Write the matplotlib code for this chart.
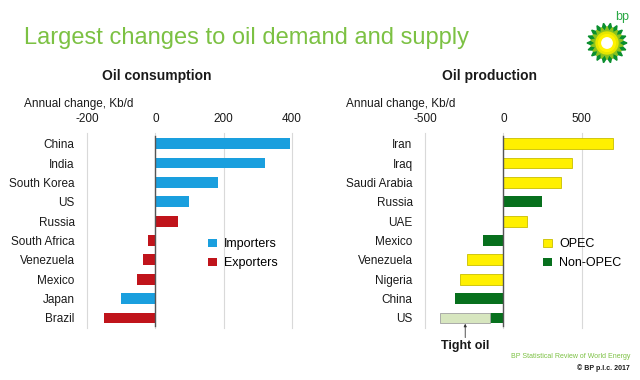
"""Largest changes to oil demand and supply (BP Statistical Review 2017)."""

import numpy as np
import matplotlib
matplotlib.use("Agg")
import matplotlib.pyplot as plt
from matplotlib.patches import Patch, Polygon, Circle

plt.rcParams['font.family'] = ['Liberation Sans', 'DejaVu Sans']

# Oil consumption, annual change Kb/d
cons_countries = ["China", "India", "South Korea", "US", "Russia",
                  "South Africa", "Venezuela", "Mexico", "Japan", "Brazil"]
cons_values = [395, 322, 183, 99, 65, -21, -36, -53, -101, -150]
cons_groups = ["Importers", "Importers", "Importers", "Importers", "Exporters",
               "Exporters", "Exporters", "Exporters", "Importers", "Exporters"]

# Oil production, annual change Kb/d
prod_countries = ["Iran", "Iraq", "Saudi Arabia", "Russia", "UAE",
                  "Mexico", "Venezuela", "Nigeria", "China", "US"]
prod_values = [700, 437, 367, 247, 148, -127, -232, -274, -306, -84]
prod_groups = ["OPEC", "OPEC", "OPEC", "Non-OPEC", "OPEC",
               "Non-OPEC", "OPEC", "OPEC", "Non-OPEC", "Non-OPEC"]
us_tight_oil = -319

cons_ticks = [-200, 0, 200, 400]
prod_ticks = [-500, 0, 500]

colors = {"Importers": "#1a9fde", "Exporters": "#c0141b",
          "OPEC": "#fff000", "Non-OPEC": "#07701d"}
edges = {"Importers": "none", "Exporters": "none",
         "OPEC": "#c9be00", "Non-OPEC": "none"}
TIGHT_COLOR = "#d7e6bf"
GREEN_TEXT = "#7cc143"
GRID = "#d9d9d9"
TEXT = "#1a1a1a"


def draw_panel(ax, countries, values, groups, ticks, xlim):
    y = np.arange(len(countries))
    ax.barh(y, values, height=0.56,
            color=[colors[g] for g in groups],
            edgecolor=[edges[g] for g in groups], linewidth=0.6, zorder=2)
    ax.set_xlim(*xlim)
    ax.set_ylim(9.52, -0.55)
    ax.set_xticks(ticks)
    ax.set_xticklabels([str(t) for t in ticks])
    ax.xaxis.tick_top()
    ax.tick_params(axis="x", length=0, pad=6, labelsize=8.5, colors=TEXT)
    ax.set_yticks(y)
    ax.set_yticklabels(countries)
    ax.tick_params(axis="y", length=0, pad=9, labelsize=8.5, colors=TEXT)
    ax.grid(axis="x", color=GRID, linewidth=0.8, zorder=0)
    for gl in ax.xaxis.get_gridlines():
        gl.set_clip_on(False)
    ax.set_axisbelow(True)
    ax.axvline(0, ymin=0.01, ymax=0.985, color="#555555", linewidth=1.0, zorder=3)
    for s in ax.spines.values():
        s.set_visible(False)


fig = plt.figure(figsize=(6.4, 3.8), dpi=100)

# left: consumption
ax1 = fig.add_axes([87 / 640, 1 - 328 / 380, 205 / 640, 195 / 380])
draw_panel(ax1, cons_countries, cons_values, cons_groups, cons_ticks, (-200, 400))
ax1.legend(handles=[Patch(facecolor=colors["Importers"], label="Importers"),
                    Patch(facecolor=colors["Exporters"], label="Exporters")],
           loc="center left", bbox_to_anchor=(0.535, 0.38), frameon=False,
           handlelength=0.7, handleheight=0.7, handletextpad=0.6,
           labelspacing=0.55, fontsize=9)

# right: production
ax2 = fig.add_axes([425 / 640, 1 - 328 / 380, 196 / 640, 195 / 380])
draw_panel(ax2, prod_countries, prod_values, prod_groups, prod_ticks, (-500, 750))
us_idx = prod_countries.index("US")
ax2.barh(us_idx, us_tight_oil, left=prod_values[us_idx], height=0.56,
         color=TIGHT_COLOR, edgecolor="#a0a0a0", linewidth=0.6, zorder=2)
ax2.legend(handles=[Patch(facecolor=colors["OPEC"], edgecolor=edges["OPEC"],
                          linewidth=0.6, label="OPEC"),
                    Patch(facecolor=colors["Non-OPEC"], label="Non-OPEC")],
           loc="center left", bbox_to_anchor=(0.545, 0.38), frameon=False,
           handlelength=0.7, handleheight=0.7, handletextpad=0.6,
           labelspacing=0.55, fontsize=9)
ax2.annotate("Tight oil", xy=(prod_values[us_idx] + us_tight_oil / 2, us_idx + 0.3),
             xytext=(0, -12), textcoords="offset points", ha="center", va="top",
             fontsize=9, fontweight="bold", color=TEXT, annotation_clip=False,
             arrowprops=dict(arrowstyle="-|>", color="#333333", lw=0.6,
                             mutation_scale=4, shrinkA=0, shrinkB=0))

# texts
fig.text(24 / 640, 1 - 38 / 380, "Largest changes to oil demand and supply",
         fontsize=17, color=GREEN_TEXT, ha="left", va="center")
fig.text(157 / 640, 1 - 76 / 380, "Oil consumption", fontsize=10,
         fontweight="bold", color=TEXT, ha="center", va="center")
fig.text(490 / 640, 1 - 76 / 380, "Oil production", fontsize=10,
         fontweight="bold", color=TEXT, ha="center", va="center")
fig.text(24 / 640, 1 - 104 / 380, "Annual change, Kb/d", fontsize=8.5,
         color=TEXT, ha="left", va="center")
fig.text(346 / 640, 1 - 104 / 380, "Annual change, Kb/d", fontsize=8.5,
         color=TEXT, ha="left", va="center")
fig.text(630 / 640, 1 - 357 / 380, "BP Statistical Review of World Energy",
         fontsize=5, color=GREEN_TEXT, ha="right", va="center")
fig.text(630 / 640, 1 - 368 / 380, "\u00a9 BP p.l.c. 2017", fontsize=5,
         fontweight="bold", color=TEXT, ha="right", va="center")

# bp helios logo
fig.text(622 / 640, 1 - 17 / 380, "bp", fontsize=9, color="#2aa845",
         ha="center", va="center")
lax = fig.add_axes([585 / 640, 1 - 65 / 380, 44 / 640, 44 / 380])
lax.set_xlim(-1.1, 1.1)
lax.set_ylim(-1.1, 1.1)
lax.set_aspect("equal")
lax.axis("off")


def star(r_out, r_in, n, rot=0.0):
    ang = np.linspace(0, 2 * np.pi, 2 * n, endpoint=False) + rot
    r = np.where(np.arange(2 * n) % 2 == 0, r_out, r_in)
    return np.column_stack([r * np.cos(ang), r * np.sin(ang)])


lax.add_patch(Polygon(star(1.0, 0.72, 18), color="#0a8f2e"))
lax.add_patch(Polygon(star(0.82, 0.58, 18, np.pi / 18), color="#8cc31e"))
lax.add_patch(Circle((0, 0), 0.55, color="#e6e600"))
lax.add_patch(Circle((0, 0), 0.42, color="#fff200"))
lax.add_patch(Circle((0, 0), 0.26, color="#ffffff"))

fig.savefig("out.png", dpi=100)
